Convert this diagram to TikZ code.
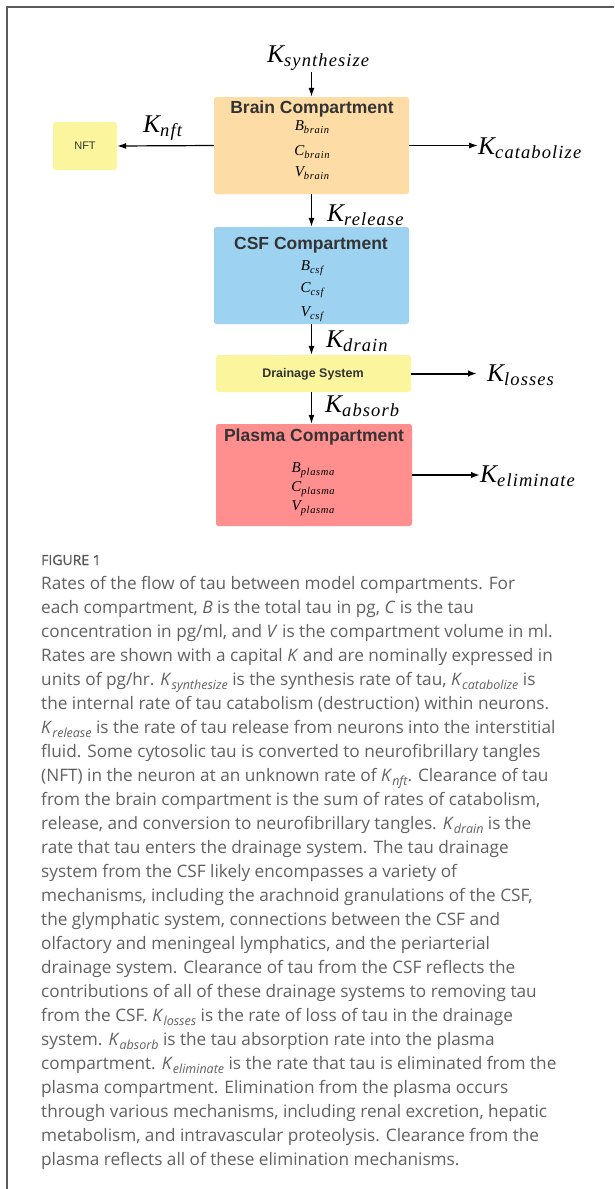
\documentclass[tikz,border=0pt]{standalone}
\usepackage{fontspec}
\setmainfont{Open Sans}
\newfontfamily\boxfont{Liberation Sans}
\newfontfamily\kfont{Liberation Serif}
\newfontfamily\ksubfont{Liberation Serif}[LetterSpace=6]
\newfontfamily\figfont{Open Sans}[FakeBold=0.6]
\usetikzlibrary{arrows.meta}
\definecolor{brainc}{HTML}{FEDCA5}
\definecolor{csfc}{HTML}{9DD2F1}
\definecolor{yelc}{HTML}{FBF59D}
\definecolor{plasc}{HTML}{FF8E8E}
\definecolor{capc}{HTML}{616161}
\definecolor{figc}{HTML}{555555}
\definecolor{boxtxt}{HTML}{333333}
\definecolor{framec}{HTML}{5A5A5A}
\newcommand{\Klab}[1]{{\kfont\itshape\fontsize{25.5}{25.5}\selectfont K}\raisebox{-4pt}{\ksubfont\itshape\fontsize{18.5}{18.5}\selectfont #1}}
\newcommand{\Vlab}[2]{{\kfont\itshape\fontsize{15}{15}\selectfont #1}\raisebox{-3pt}{\ksubfont\itshape\fontsize{10.5}{10.5}\selectfont #2}}
\newcommand{\CapK}[2]{\textit{#1}\raisebox{-4pt}{\fontsize{12.5}{12.5}\selectfont\itshape #2}}
\begin{document}
\begin{tikzpicture}[x=1pt,y=-1pt,
  cbox/.style={draw=none, rounded corners=2.5pt, inner sep=0pt},
  ttl/.style={font=\boxfont\bfseries\fontsize{17.5}{17.5}\selectfont, text=boxtxt, anchor=base, inner sep=0pt},
  vlab/.style={anchor=base, inner sep=0pt, text=black},
  klab/.style={anchor=base west, inner sep=0pt, text=black},
  arr/.style={-{Latex[length=9pt,width=6pt]}, line width=1.2pt},
  arrthick/.style={-{Latex[length=9pt,width=6.5pt]}, line width=2pt},
  capline/.style={anchor=base west, inner sep=0pt, text=capc, font=\fontsize{17.2}{24}\selectfont}]
\useasboundingbox (0,0) rectangle (614,1189);
\fill[white] (0,0) rectangle (614,1189);
\draw[framec, line width=1.3pt] (7,1189) -- (7,7) -- (614,7);

% boxes
\node[cbox, fill=brainc, minimum width=195pt, minimum height=97pt] (brain) at (311.5,145.5) {};
\node[cbox, fill=yelc, minimum width=64pt, minimum height=48pt] (nft) at (85,146) {};
\node[cbox, fill=csfc, minimum width=195pt, minimum height=97pt] (csf) at (311.5,275.5) {};
\node[cbox, fill=yelc, minimum width=195pt, minimum height=37pt] (drain) at (313.5,373.5) {};
\node[cbox, fill=plasc, minimum width=196pt, minimum height=102pt] (plasma) at (314,475) {};

% box texts
\node[ttl] (braint) at (312,113) {Brain Compartment};
\node[vlab] (bb) at (312,130.5) {\Vlab{B}{brain}};
\node[vlab] (cb) at (312,155) {\Vlab{C}{brain}};
\node[vlab] (vb) at (312,176) {\Vlab{V}{brain}};
\node[anchor=center, inner sep=0pt, font=\boxfont\fontsize{11}{11}\selectfont, text=boxtxt] (nftt) at (85,146) {NFT};
\node[ttl] (csft) at (311,249) {CSF Compartment};
\node[vlab] (bc) at (312,270) {\Vlab{B}{csf}};
\node[vlab] (cc) at (312,292) {\Vlab{C}{csf}};
\node[vlab] (vc) at (312,316) {\Vlab{V}{csf}};
\node[ttl, font=\boxfont\bfseries\fontsize{12.5}{12.5}\selectfont] (draint) at (313,377.5) {Drainage System};
\node[ttl] (plast) at (314,441.5) {Plasma Compartment};
\node[vlab] (bp) at (313,472.5) {\Vlab{B}{plasma}};
\node[vlab] (cp) at (313,491.5) {\Vlab{C}{plasma}};
\node[vlab] (vp) at (313,510.5) {\Vlab{V}{plasma}};

% rate labels
\node[klab] (ksyn) at (267,62) {\Klab{synthesize}};
\node[klab] (knft) at (143,132) {\Klab{nft}};
\node[klab] (kcat) at (478,154) {\Klab{catabolize}};
\node[klab] (krel) at (327,221.5) {\Klab{release}};
\node[klab] (kdra) at (326,347) {\Klab{drain}};
\node[klab] (klos) at (487,381.5) {\Klab{losses}};
\node[klab] (kabs) at (325,412.5) {\Klab{absorb}};
\node[klab] (keli) at (480,482) {\Klab{eliminate}};

% connectors
\draw[arr, shorten <=2pt] (ksyn.south -| brain.north) -- (brain.north);
\draw[arr] (brain.west) -- (nft.east);
\draw[arr] (brain.east) -- (brain.east -| kcat.west);
\draw[arr] (brain.south) -- (csf.north);
\draw[arr] (csf.south) -- (csf.south |- drain.north);
\draw[arrthick] (drain.east) -- ([xshift=-10pt]drain.east -| klos.west);
\draw[arr] (drain.south -| csf.south) -- (csf.south |- plasma.north);
\draw[arrthick] (plasma.east) -- (plasma.east -| keli.west);

% caption
\node[anchor=base west, inner sep=0pt, text=figc, font=\figfont\fontsize{14}{14}\selectfont] (fig) at (41,565) {FIGURE 1};
\node[capline] (l1) at (41,589) {Rates of the flow of tau between model compartments. For};
\node[capline] (l2) at (41,613) {each compartment, \textit{B} is the total tau in pg, \textit{C} is the tau};
\node[capline] (l3) at (41,637) {concentration in pg/ml, and \textit{V} is the compartment volume in ml.};
\node[capline] (l4) at (41,661) {Rates are shown with a capital \textit{K} and are nominally expressed in};
\node[capline] (l5) at (41,685) {units of pg/hr. \CapK{K}{synthesize} is the synthesis rate of tau, \CapK{K}{catabolize} is};
\node[capline] (l6) at (41,709) {the internal rate of tau catabolism (destruction) within neurons.};
\node[capline] (l7) at (41,733) {\CapK{K}{release} is the rate of tau release from neurons into the interstitial};
\node[capline] (l8) at (41,757) {fluid. Some cytosolic tau is converted to neurofibrillary tangles};
\node[capline] (l9) at (41,781) {(NFT) in the neuron at an unknown rate of \CapK{K}{nft}. Clearance of tau};
\node[capline] (l10) at (41,805) {from the brain compartment is the sum of rates of catabolism,};
\node[capline] (l11) at (41,829) {release, and conversion to neurofibrillary tangles. \CapK{K}{drain} is the};
\node[capline] (l12) at (41,853) {rate that tau enters the drainage system. The tau drainage};
\node[capline] (l13) at (41,877) {system from the CSF likely encompasses a variety of};
\node[capline] (l14) at (41,901) {mechanisms, including the arachnoid granulations of the CSF,};
\node[capline] (l15) at (41,925) {the glymphatic system, connections between the CSF and};
\node[capline] (l16) at (41,949) {olfactory and meningeal lymphatics, and the periarterial};
\node[capline] (l17) at (41,973) {drainage system. Clearance of tau from the CSF reflects the};
\node[capline] (l18) at (41,997) {contributions of all of these drainage systems to removing tau};
\node[capline] (l19) at (41,1021) {from the CSF. \CapK{K}{losses} is the rate of loss of tau in the drainage};
\node[capline] (l20) at (41,1045) {system. \CapK{K}{absorb} is the tau absorption rate into the plasma};
\node[capline] (l21) at (41,1069) {compartment. \CapK{K}{eliminate} is the rate that tau is eliminated from the};
\node[capline] (l22) at (41,1093) {plasma compartment. Elimination from the plasma occurs};
\node[capline] (l23) at (41,1117) {through various mechanisms, including renal excretion, hepatic};
\node[capline] (l24) at (41,1141) {metabolism, and intravascular proteolysis. Clearance from the};
\node[capline] (l25) at (41,1165) {plasma reflects all of these elimination mechanisms.};
\end{tikzpicture}
\end{document}
